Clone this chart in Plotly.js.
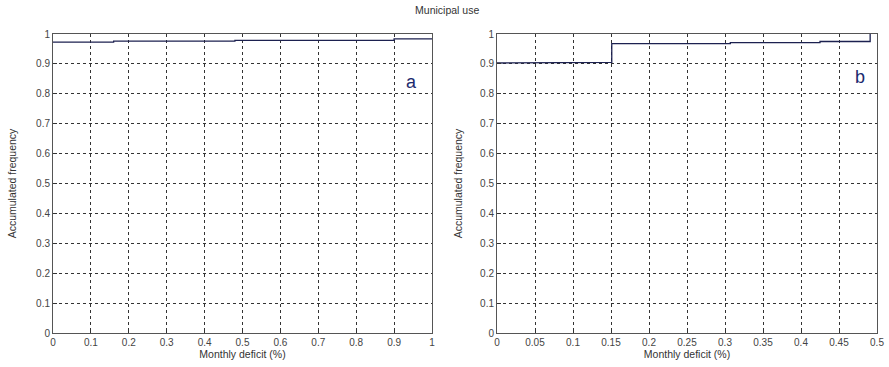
<!DOCTYPE html>
<html><head><meta charset="utf-8">
<script src="https://cdn.plot.ly/plotly-3.0.1.min.js"></script>
<style>html,body{margin:0;padding:0;background:#fff;}#chart{width:889px;height:367px;}</style>
</head><body><div id="chart"></div>
<script>
// Panel a: step data (x = monthly deficit %, y = accumulated frequency)
const xA = [0, 0.16, 0.16, 0.48, 0.48, 0.90, 0.90, 1.0];
const yA = [0.973, 0.973, 0.976, 0.976, 0.979, 0.979, 0.984, 0.984];
// Panel b
const xB = [0, 0.119, 0.119, 0.151, 0.151, 0.307, 0.307, 0.425, 0.425, 0.491, 0.491];
const yB = [0.903, 0.903, 0.905, 0.905, 0.968, 0.968, 0.971, 0.971, 0.975, 0.975, 1.0];
const ticksA = [0,0.1,0.2,0.3,0.4,0.5,0.6,0.7,0.8,0.9,1];
const ticksB = [0,0.05,0.1,0.15,0.2,0.25,0.3,0.35,0.4,0.45,0.5];
const ticksY = [0,0.1,0.2,0.3,0.4,0.5,0.6,0.7,0.8,0.9,1];
const title = "Municipal use";
const xTitle = "Monthly deficit (%)";
const yTitle = "Accumulated frequency";
const labels = ["a","b"];

const lineColor = "#1c2150";
const FONT = "Liberation Sans, Arial, sans-serif";
const traces = [
  {x: xA, y: yA, type: "scatter", mode: "lines", line: {color: lineColor, width: 1.3}, xaxis: "x", yaxis: "y", hoverinfo: "skip"},
  {x: xB, y: yB, type: "scatter", mode: "lines", line: {color: lineColor, width: 1.3}, xaxis: "x2", yaxis: "y2", hoverinfo: "skip"}
];
const tickFont = {family: FONT, size: 10, color: "#444"};
const titleFont = {family: FONT, size: 10.5, color: "#333"};
function xax(domain, range, ticks, anchor) {
  return {domain: domain, range: range, tickvals: ticks, ticktext: ticks.map(String), anchor: anchor,
    showgrid: true, gridcolor: "#333", griddash: "dot", gridwidth: 1,
    ticks: "inside", ticklen: 4, tickcolor: "#333", tickfont: tickFont,
    showline: true, linecolor: "#555", linewidth: 1, mirror: true, zeroline: false,
    title: {text: xTitle, font: titleFont, standoff: 3}};
}
function yax(domain, anchor, standoff) {
  return {domain: domain, range: [0, 1], tickvals: ticksY, ticktext: ticksY.map(String), anchor: anchor,
    showgrid: true, gridcolor: "#333", griddash: "dot", gridwidth: 1,
    ticks: "inside", ticklen: 4, tickcolor: "#333", tickfont: tickFont,
    showline: true, linecolor: "#555", linewidth: 1, mirror: true, zeroline: false,
    title: {text: yTitle, font: titleFont, standoff: standoff}};
}
const yDom = [1 - 333/367, 1 - 34/367];
const layout = {
  width: 889, height: 367,
  margin: {l: 0, r: 0, t: 0, b: 0},
  paper_bgcolor: "#fff", plot_bgcolor: "#fff",
  showlegend: false,
  title: {text: title, font: {family: FONT, size: 10.5, color: "#333"}, x: 0.503, xanchor: "center", y: 0.972, yanchor: "middle"},
  xaxis: xax([53/889, 432/889], [0, 1], ticksA, "y"),
  yaxis: yax(yDom, "x", 17),
  xaxis2: xax([497/889, 877/889], [0, 0.5], ticksB, "y2"),
  yaxis2: yax(yDom, "x2", 15),
  annotations: [
    {text: labels[0], xref: "x", yref: "y", x: 0.945, y: 0.84, showarrow: false, font: {family: FONT, size: 18, color: "#1c2a6e"}},
    {text: labels[1], xref: "x2", yref: "y2", x: 0.478, y: 0.855, showarrow: false, font: {family: FONT, size: 18, color: "#1c2a6e"}}
  ]
};
Plotly.newPlot("chart", traces, layout, {staticPlot: true, displayModeBar: false});
</script></body></html>
